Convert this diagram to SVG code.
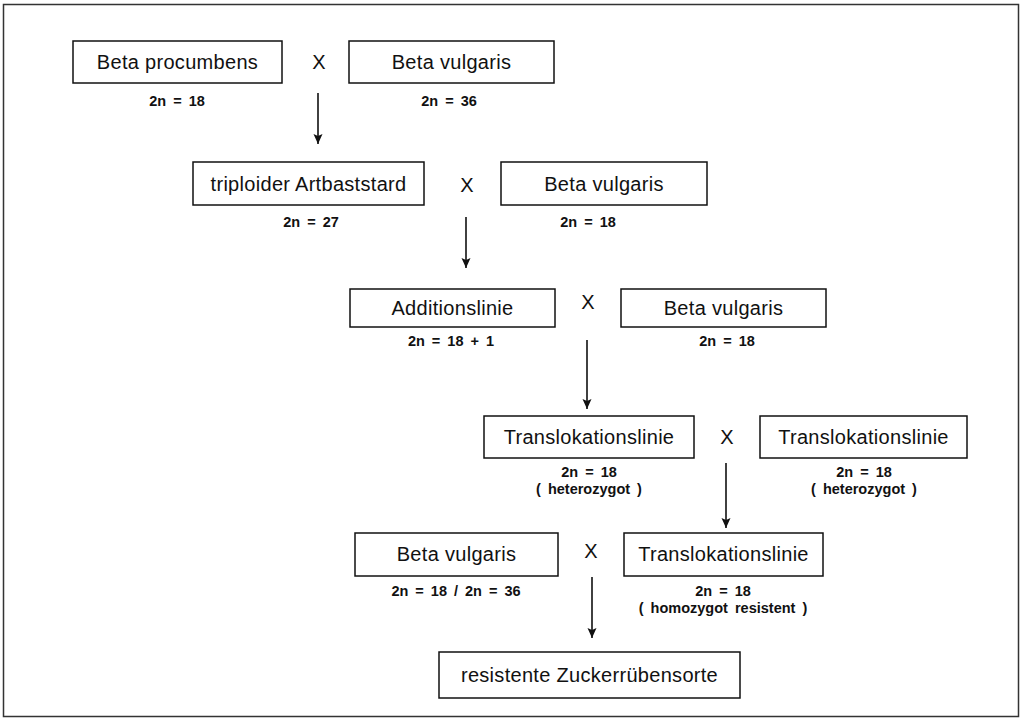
<svg xmlns="http://www.w3.org/2000/svg" width="1022" height="728" viewBox="0 0 1022 728">
<style>
.frame{fill:#fff;stroke:#333;stroke-width:1.5}
.box rect{fill:#fff;stroke:#111;stroke-width:1.5}
.t{font-family:"Liberation Sans",Arial,sans-serif;font-size:20px;letter-spacing:0.3px;fill:#111;text-anchor:middle}
.lab{font-family:"Liberation Sans",Arial,sans-serif;font-size:14.5px;font-weight:bold;fill:#111;text-anchor:middle;word-spacing:3px}
.x{font-family:"Liberation Sans",Arial,sans-serif;font-size:20px;fill:#111;text-anchor:middle}
.conn line{stroke:#111;stroke-width:1.6}
</style>
<defs>
<marker id="ah" markerUnits="userSpaceOnUse" markerWidth="11" markerHeight="12" refX="10" refY="5" orient="auto">
<path d="M0,0.5 L10,5 L0,9.5 L2,5 z" fill="#111"/>
</marker>
</defs>
<rect class="frame" x="3.5" y="4.5" width="1015" height="712"/>
<g id="n1" class="box"><rect x="73" y="41" width="209" height="42"/><text class="t" x="177.5" y="69">Beta procumbens</text><text class="lab" x="177" y="106">2n = 18</text></g>
<g id="n2" class="box"><rect x="349" y="41" width="205" height="42"/><text class="t" x="451.5" y="69">Beta vulgaris</text><text class="lab" x="449" y="106">2n = 36</text></g>
<g id="n3" class="box"><rect x="193" y="162" width="231" height="43"/><text class="t" x="308.5" y="191">triploider Artbaststard</text><text class="lab" x="311" y="227">2n = 27</text></g>
<g id="n4" class="box"><rect x="501" y="162" width="206" height="43"/><text class="t" x="604" y="191">Beta vulgaris</text><text class="lab" x="588" y="227">2n = 18</text></g>
<g id="n5" class="box"><rect x="350" y="289" width="205" height="38"/><text class="t" x="452.5" y="315">Additionslinie</text><text class="lab" x="451" y="346">2n = 18 + 1</text></g>
<g id="n6" class="box"><rect x="621" y="289" width="205" height="38"/><text class="t" x="723.5" y="315">Beta vulgaris</text><text class="lab" x="727" y="346">2n = 18</text></g>
<g id="n7" class="box"><rect x="484" y="416" width="210" height="42"/><text class="t" x="589" y="444">Translokationslinie</text><text class="lab" x="589" y="477">2n = 18</text><text class="lab" x="589" y="494">( heterozygot )</text></g>
<g id="n8" class="box"><rect x="760" y="416" width="207" height="42"/><text class="t" x="863.5" y="444">Translokationslinie</text><text class="lab" x="864" y="477">2n = 18</text><text class="lab" x="864" y="494">( heterozygot )</text></g>
<g id="n9" class="box"><rect x="355" y="533" width="203" height="43"/><text class="t" x="456.5" y="561">Beta vulgaris</text><text class="lab" x="456" y="596">2n = 18 / 2n = 36</text></g>
<g id="n10" class="box"><rect x="624" y="533" width="199" height="43"/><text class="t" x="723.5" y="561">Translokationslinie</text><text class="lab" x="723" y="596">2n = 18</text><text class="lab" x="723" y="613">( homozygot resistent )</text></g>
<g id="n11" class="box"><rect x="439" y="652" width="301" height="46"/><text class="t" x="589.5" y="682">resistente Zuckerrübensorte</text></g>
<g id="crosses">
<text class="x" x="319" y="69">X</text>
<text class="x" x="467" y="192">X</text>
<text class="x" x="588" y="309">X</text>
<text class="x" x="727" y="444">X</text>
<text class="x" x="591" y="558">X</text>
</g>
<g id="connectors" class="conn">
<line x1="318" y1="93" x2="318" y2="144" marker-end="url(#ah)"/>
<line x1="466" y1="217" x2="466" y2="268" marker-end="url(#ah)"/>
<line x1="587" y1="340" x2="587" y2="409" marker-end="url(#ah)"/>
<line x1="726" y1="463" x2="726" y2="528" marker-end="url(#ah)"/>
<line x1="592" y1="577" x2="592" y2="638" marker-end="url(#ah)"/>
</g>
</svg>
